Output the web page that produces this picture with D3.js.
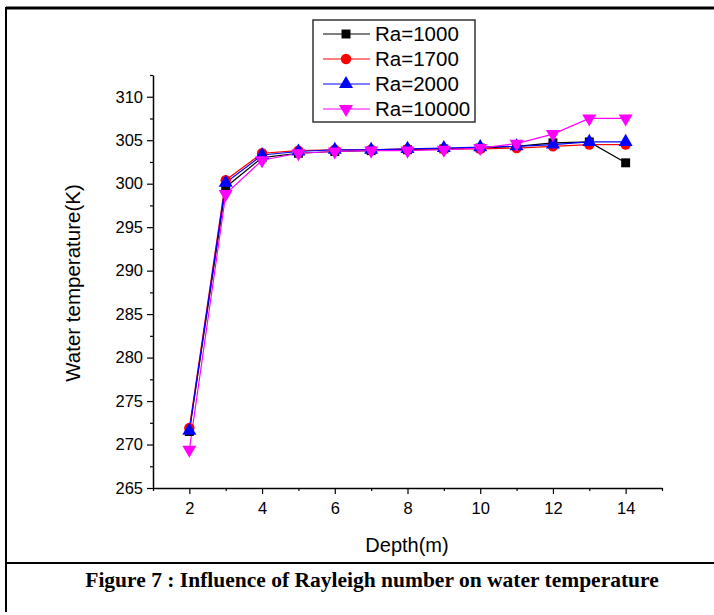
<!DOCTYPE html>
<html>
<head>
<meta charset="utf-8">
<script src="https://cdn.jsdelivr.net/npm/d3@7"></script>
<style>
  body { margin: 0; background: #fff; }
  svg { display: block; }
</style>
</head>
<body>
<svg id="chart" width="714" height="615"></svg>
<script>
// Data
const depth = [2, 3, 4, 5, 6, 7, 8, 9, 10, 11, 12, 13, 14];
const ra1000 = [271.5, 299.6, 303.0, 303.5, 303.7, 303.8, 303.9, 304.0, 304.1, 304.3, 304.7, 304.8, 302.4];
const ra1700 = [271.9, 300.4, 303.5, 303.8, 303.9, 303.9, 304.0, 304.0, 304.0, 304.1, 304.3, 304.5, 304.5];
const ra2000 = [271.6, 300.1, 303.3, 303.7, 303.9, 303.9, 304.0, 304.1, 304.2, 304.3, 304.5, 304.8, 304.8];
const ra10000 = [269.4, 298.8, 302.7, 303.5, 303.7, 303.8, 303.8, 303.9, 304.1, 304.6, 305.7, 307.5, 307.5];
const seriesNames = ["Ra=1000", "Ra=1700", "Ra=2000", "Ra=10000"];
const xTicks = [2, 4, 6, 8, 10, 12, 14];
const yTicks = [265, 270, 275, 280, 285, 290, 295, 300, 305, 310];

const series = [
  { name: seriesNames[0], values: ra1000, color: "#000000", symbol: d3.symbolSquare, size: 80, rot: 0 },
  { name: seriesNames[1], values: ra1700, color: "#ff0000", symbol: d3.symbolCircle, size: 85, rot: 0 },
  { name: seriesNames[2], values: ra2000, color: "#0000ff", symbol: d3.symbolTriangle, size: 85, rot: 0 },
  { name: seriesNames[3], values: ra10000, color: "#ff00ff", symbol: d3.symbolTriangle, size: 85, rot: 180 }
];

const svg = d3.select("#chart");
const sans = "Arial, 'Liberation Sans', sans-serif";

// outer frame of the figure
svg.append("line").attr("x1", 6).attr("x2", 714).attr("y1", 8).attr("y2", 8)
  .attr("stroke", "#000").attr("stroke-width", 3);
svg.append("line").attr("x1", 6).attr("x2", 6).attr("y1", 7).attr("y2", 612)
  .attr("stroke", "#000").attr("stroke-width", 2);
svg.append("line").attr("x1", 6).attr("x2", 714).attr("y1", 563).attr("y2", 563)
  .attr("stroke", "#000").attr("stroke-width", 2);

const x = d3.scaleLinear().domain([1, 15]).range([153, 662]);
const y = d3.scaleLinear().domain([265, 312.5]).range([488, 75]);

// axes
const xAxis = d3.axisBottom(x)
  .tickValues(d3.range(1, 16))
  .tickFormat(d => xTicks.includes(d) ? d : "")
  .tickSizeOuter(0);
const gx = svg.append("g").attr("transform", "translate(0,488)").call(xAxis);
gx.selectAll(".tick line").attr("y2", d => xTicks.includes(d) ? 6 : 3);

const yAxis = d3.axisLeft(y)
  .tickValues(d3.range(265, 313, 2.5))
  .tickFormat(d => yTicks.includes(d) ? d : "")
  .tickSizeOuter(0);
const gy = svg.append("g").attr("transform", "translate(153,0)").call(yAxis);
gy.selectAll(".tick line").attr("x2", d => yTicks.includes(d) ? -6 : -3);

[gx, gy].forEach(g => {
  g.select(".domain").attr("stroke", "#000").attr("stroke-width", 1.5);
  g.selectAll(".tick line").attr("stroke", "#000").attr("stroke-width", 1.2);
  g.selectAll("text").attr("font-family", sans)
    .attr("font-size", 16.5).attr("fill", "#000");
});
gx.selectAll("text").attr("dy", "1.05em");
gy.selectAll("text").attr("x", -10);

// axis titles
svg.append("text").attr("x", 407).attr("y", 552).attr("text-anchor", "middle")
  .attr("font-family", sans).attr("font-size", 20)
  .text("Depth(m)");
svg.append("text").attr("transform", "translate(80,283) rotate(-90)").attr("text-anchor", "middle")
  .attr("font-family", sans).attr("font-size", 20.5)
  .text("Water temperature(K)");

// lines and markers
const line = d3.line().x((d, i) => x(depth[i])).y(d => y(d));
series.forEach(s => {
  svg.append("path").datum(s.values).attr("d", line)
    .attr("fill", "none").attr("stroke", s.color).attr("stroke-width", 1.2);
});
series.forEach(s => {
  svg.append("g").selectAll("path").data(s.values).join("path")
    .attr("d", d3.symbol().type(s.symbol).size(s.size))
    .attr("transform", (d, i) => `translate(${x(depth[i])},${y(d)}) rotate(${s.rot})`)
    .attr("fill", s.color);
});

// legend
const lg = svg.append("g");
lg.append("rect").attr("x", 313).attr("y", 20).attr("width", 162).attr("height", 102)
  .attr("fill", "#fff").attr("stroke", "#333").attr("stroke-width", 1.5);
series.forEach((s, i) => {
  const ly = 34 + i * 25;
  lg.append("line").attr("x1", 323).attr("x2", 370).attr("y1", ly).attr("y2", ly)
    .attr("stroke", s.color).attr("stroke-width", 1.2);
  lg.append("path").attr("d", d3.symbol().type(s.symbol).size(s.size))
    .attr("transform", `translate(346,${ly}) rotate(${s.rot})`).attr("fill", s.color);
  lg.append("text").attr("x", 375).attr("y", ly + 7)
    .attr("font-family", sans).attr("font-size", 20.5)
    .text(s.name);
});

// caption
svg.append("text").attr("x", 372).attr("y", 587).attr("text-anchor", "middle")
  .attr("font-family", "'Liberation Serif', 'Times New Roman', serif").attr("font-size", 21.5)
  .attr("font-weight", "bold")
  .text("Figure 7 : Influence of Rayleigh number on water temperature");
</script>
</body>
</html>
